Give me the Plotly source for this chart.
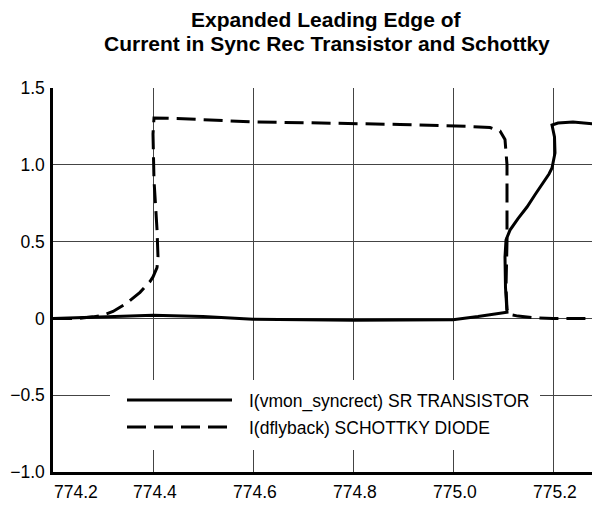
import plotly.graph_objects as go

# ---- data ----
series_names = ["I(vmon_syncrect) SR TRANSISTOR", "I(dflyback) SCHOTTKY DIODE"]

x_sr = [774.2, 774.3, 774.4, 774.5, 774.6, 774.8, 774.95, 775.0, 775.05, 775.108, 775.105,
        775.104, 775.106, 775.114, 775.13, 775.148, 775.165, 775.18, 775.192, 775.198,
        775.204, 775.203, 775.198, 775.21, 775.24, 775.294]
y_sr = [0.0, 0.01, 0.02, 0.012, -0.005, -0.012, -0.012, -0.008, 0.012, 0.04, 0.2,
        0.4, 0.51, 0.575, 0.65, 0.725, 0.81, 0.882, 0.94, 0.979,
        1.077, 1.181, 1.259, 1.272, 1.278, 1.263]

x_sd = [774.2, 774.25, 774.28, 774.3, 774.32, 774.348, 774.374, 774.394, 774.4, 774.408,
        774.41, 774.408, 774.402, 774.4, 774.402, 774.46, 774.594, 774.688, 774.894,
        775.028, 775.074, 775.094, 775.104, 775.108, 775.108, 775.106, 775.108, 775.112,
        775.13, 775.16, 775.2, 775.294]
y_sd = [0.0, 0.0, 0.01, 0.02, 0.045, 0.1, 0.17, 0.24, 0.27, 0.33,
        0.4, 0.58, 0.9, 1.2, 1.305, 1.3, 1.28, 1.275, 1.263,
        1.25, 1.243, 1.22, 1.165, 1.0, 0.5, 0.2, 0.06, 0.026,
        0.015, 0.005, 0.0, 0.0]

x_ticks = [774.2, 774.4, 774.6, 774.8, 775.0, 775.2]
x_ticktext = ["774.2", "774.4", "774.6", "774.8", "775.0", "775.2"]
y_ticks = [-1.0, -0.5, 0, 0.5, 1.0, 1.5]
y_ticktext = ["\u22121.0", "\u22120.5", "0", "0.5", "1.0", "1.5"]

title_lines = ["Expanded Leading Edge of", "Current in Sync Rec Transistor and Schottky"]

# ---- figure ----
FONT = "Liberation Sans, Arial, Helvetica, sans-serif"
DASH = "19px,8px"
OFF = 8  # page body margin of the html page

W, H = 600 - OFF, 505 - OFF
# plot area in page pixels: left 53, right 600, top 88, bottom 472
L, R, T = 53 - OFF, 0, 88 - OFF
B = H - (472 - OFF)
pw = W - L - R
ph = H - T - B

fig = go.Figure()
fig.add_trace(go.Scatter(x=x_sr, y=y_sr, mode="lines", name=series_names[0],
                         line=dict(color="black", width=3), showlegend=False))
fig.add_trace(go.Scatter(x=x_sd, y=y_sd, mode="lines", name=series_names[1],
                         line=dict(color="black", width=3, dash=DASH), showlegend=False))

fig.update_layout(
    width=W, height=H,
    margin=dict(l=L, r=R, t=T, b=B, pad=0),
    paper_bgcolor="white", plot_bgcolor="white",
    font=dict(family=FONT, size=17.5, color="black"),
    showlegend=False,
)

fig.update_xaxes(range=[774.2, 774.2 + pw / 500.0], tickvals=x_ticks,
                 showticklabels=False, showgrid=True, gridcolor="#444", gridwidth=1,
                 showline=True, linecolor="black", linewidth=2.5, zeroline=False,
                 ticks="", fixedrange=True)
fig.update_yaxes(range=[-1.0, 1.5], tickvals=y_ticks, ticktext=y_ticktext,
                 showgrid=True, gridcolor="#444", gridwidth=1,
                 showline=True, linecolor="black", linewidth=2.5, zeroline=False,
                 ticks="", ticklabelstandoff=2, fixedrange=True)


def px_x(p):
    """page pixel x -> paper coordinate"""
    return (p - OFF - L) / pw


def px_y(p):
    """page pixel y -> paper coordinate"""
    return (T + ph - (p - OFF)) / ph


# two-line bold title centred over the plot area
for yy, line in zip([19, 43], title_lines):
    fig.add_annotation(x=0.5, xref="paper", y=px_y(yy), yref="paper",
                       text="<b>" + line + "</b>", showarrow=False,
                       xanchor="center", yanchor="middle",
                       font=dict(family=FONT, size=21, color="black"))

# x tick labels (first one sits to the right of the y axis as in the reference)
for i, (v, t) in enumerate(zip(x_ticks, x_ticktext)):
    fig.add_annotation(x=v, xref="x", y=px_y(492), yref="paper",
                       text=t, showarrow=False, xanchor="center", yanchor="middle",
                       xshift=23 if i == 0 else 2, font=dict(size=17.5))

# legend box drawn to match the reference (long line samples)
fig.add_shape(type="rect", xref="paper", yref="paper",
              x0=px_x(110), x1=px_x(540), y0=px_y(450), y1=px_y(380),
              fillcolor="white", line=dict(width=0), layer="above")
fig.add_shape(type="line", xref="paper", yref="paper",
              x0=px_x(127), x1=px_x(232), y0=px_y(400), y1=px_y(400),
              line=dict(color="black", width=3), layer="above")
fig.add_shape(type="line", xref="paper", yref="paper",
              x0=px_x(127), x1=px_x(232), y0=px_y(427), y1=px_y(427),
              line=dict(color="black", width=3, dash=DASH), layer="above")
for yy, name in zip([401, 428], series_names):
    fig.add_annotation(x=px_x(247), xref="paper", y=px_y(yy), yref="paper",
                       text=name, showarrow=False, xanchor="left", yanchor="middle",
                       font=dict(size=17.5))

fig.write_html("out.html")
